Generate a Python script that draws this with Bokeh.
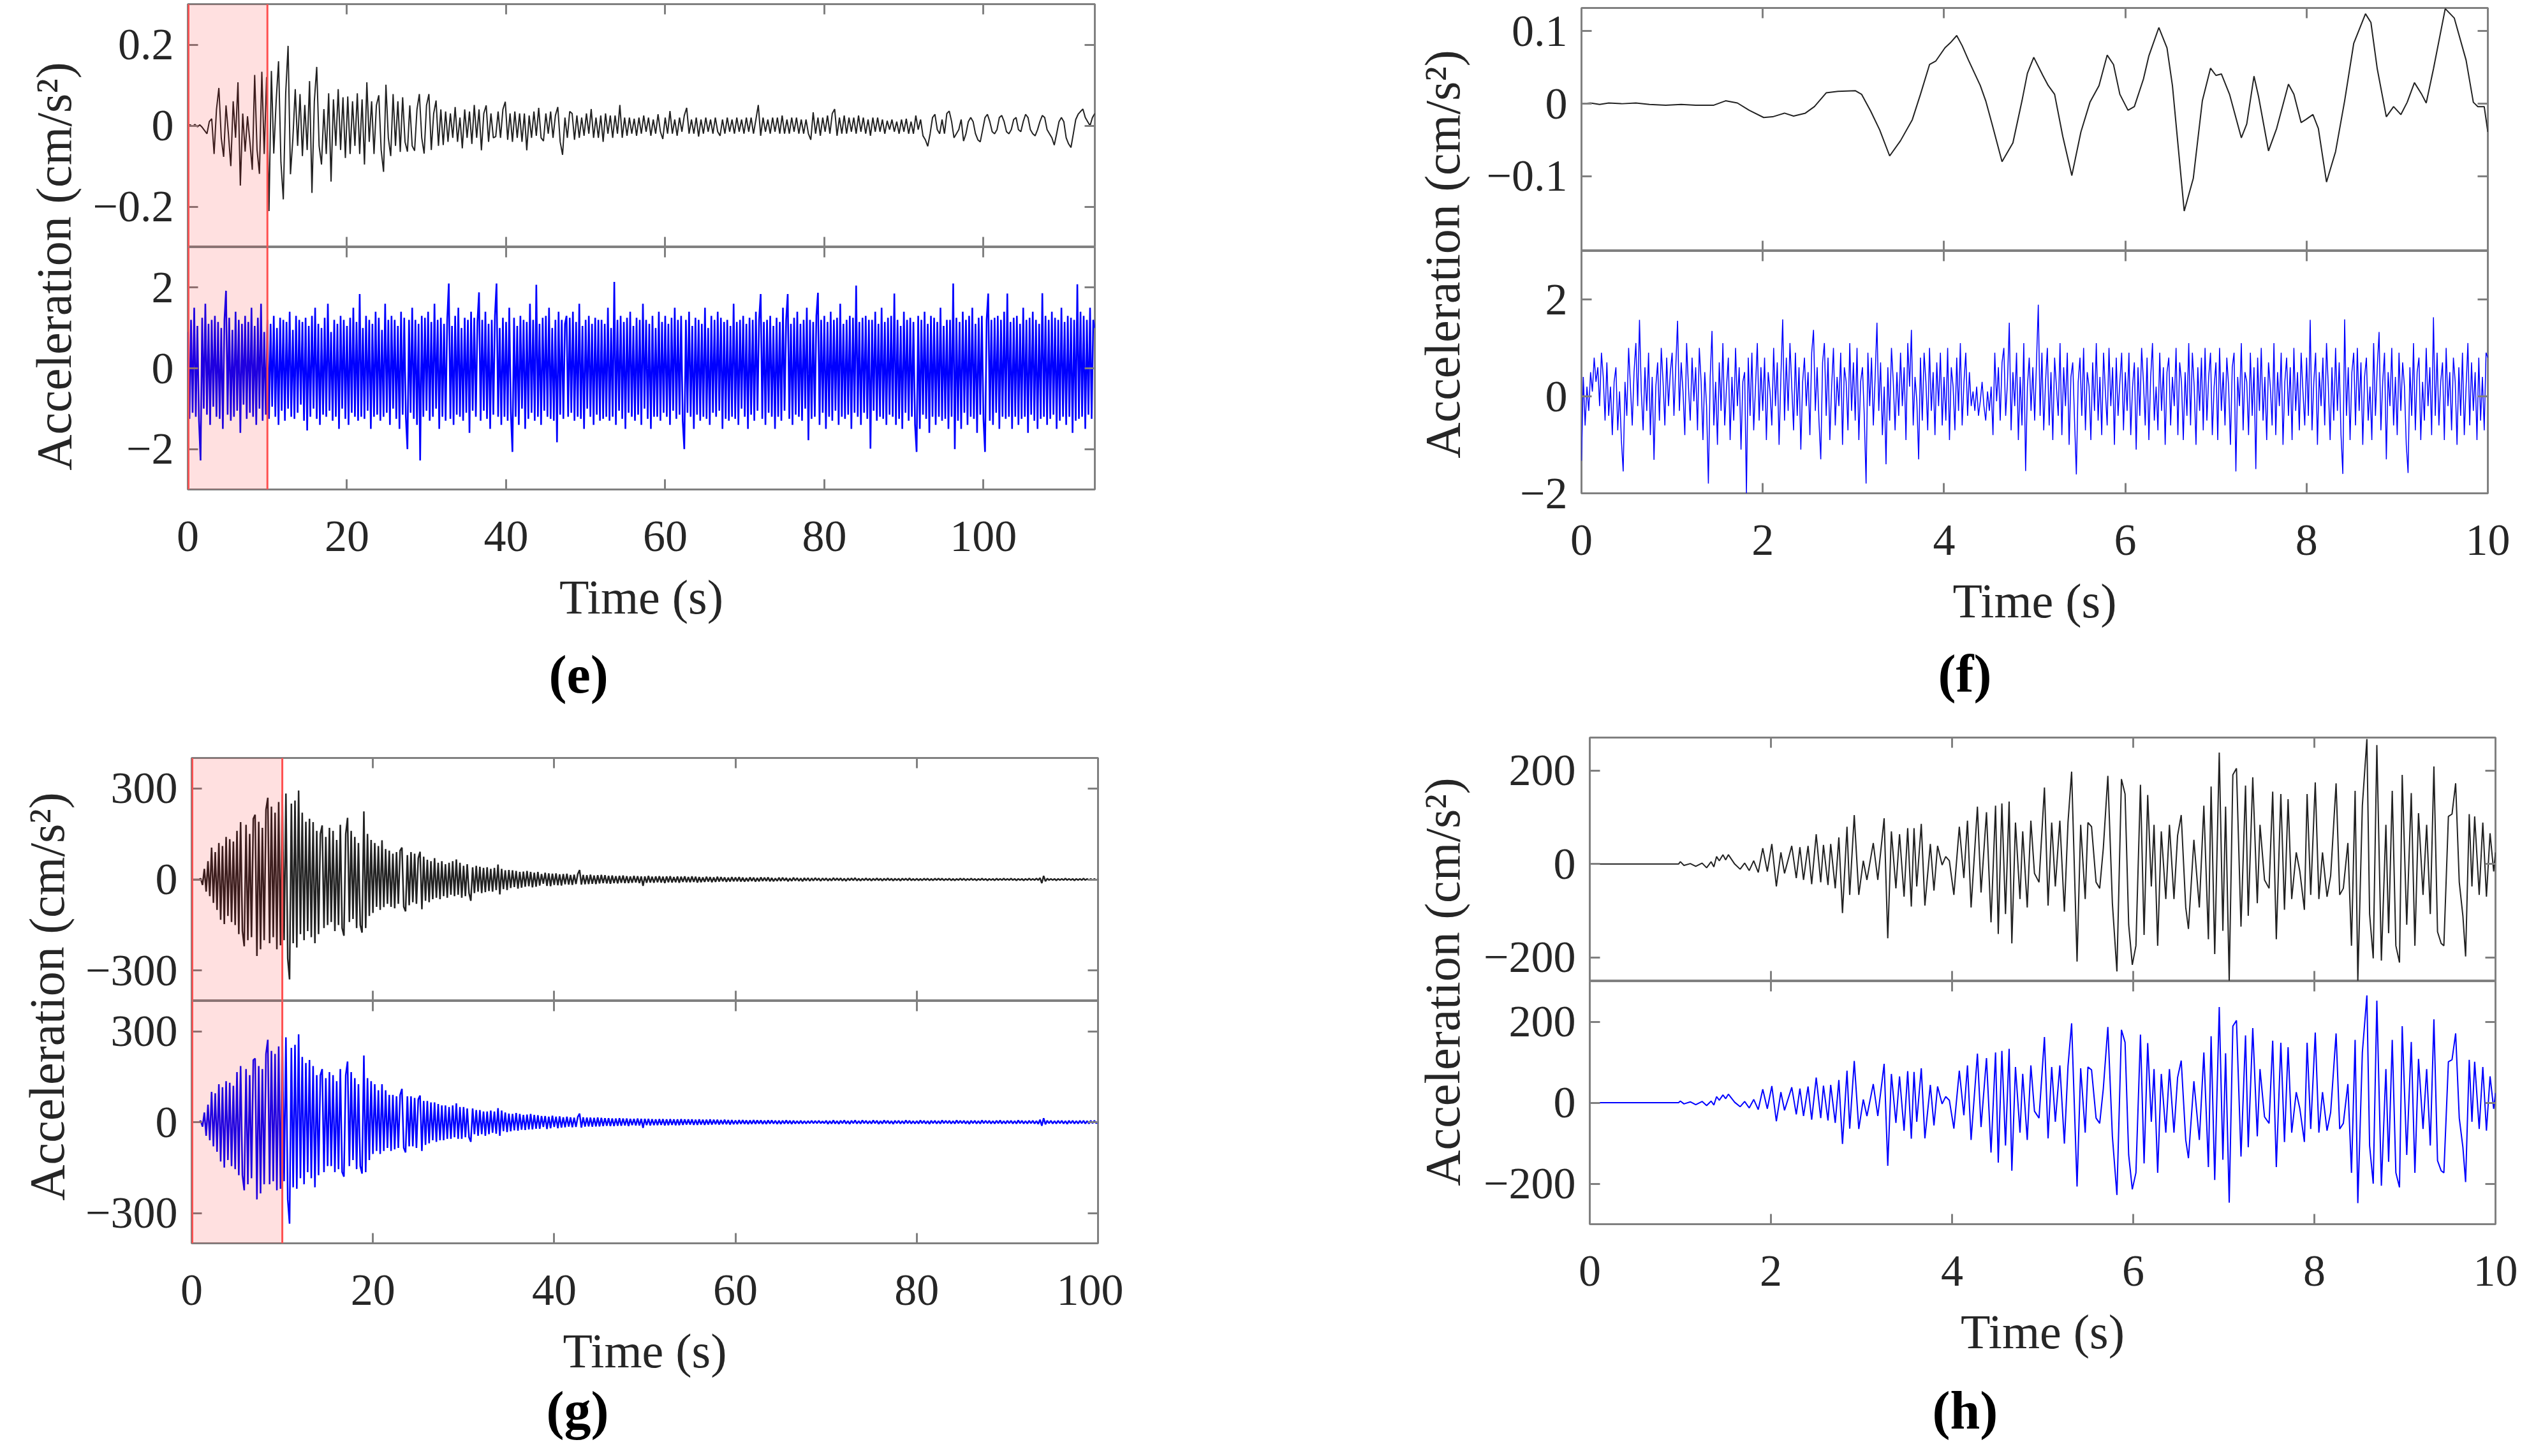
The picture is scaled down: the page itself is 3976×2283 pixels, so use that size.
import numpy as np
from bokeh.plotting import figure
from bokeh.layouts import row, column
from bokeh.models import (Range1d, LinearAxis, FixedTicker, BoxAnnotation, Span, Title,
                          CustomJSTickFormatter, CustomLabelingPolicy)
from bokeh.core.properties import value
from bokeh.embed import file_html
from bokeh.resources import INLINE

# ---------------- data ----------------
Y_LABEL = "Acceleration (cm/s\u00b2)"
X_LABEL = "Time (s)"

# (e) 0-114 s
e_xticks = [0, 20, 40, 60, 80, 100]
e_top_yticks = [-0.2, 0, 0.2]
e_bot_yticks = [-2, 0, 2]
e_window = [0, 10]
e_true_dt = 0.3
e_true = [
 0, .002, -.002, .003, -.003, .002, -.004, -.012, -.02, .01,
 .017, -.07, .04, .093, -.03, -.077, .05, -.02, -.1, .06,
 -.03, .107, -.148, .03, -.064, .023, -.04, -.109, .125, -.06,
 -.119, .133, -.07, .12, -.211, .135, -.069, .06, .159, -.09,
 -.182, .08, .197, -.12, -.033, .09, -.05, .078, -.075, .051,
 -.06, .11, -.166, .06, .145, -.05, -.096, .041, -.07, .08,
 -.138, .065, -.05, .09, -.06, .07, -.08, .072, -.07, .06,
 -.05, .08, -.07, .065, -.096, .107, -.04, .06, -.07, .05,
 .075, -.06, -.114, .101, -.03, -.075, .078, -.05, .06, -.065,
 .07, -.04, -.064, .05, -.05, -.062, .04, .078, -.03, -.069,
 .05, .078, -.06, .03, .062, -.05, .04, -.048, .035, -.04,
 .03, -.03, .046, -.04, .02, -.056, .04, -.03, .035, -.045,
 .051, -.03, .04, -.061, .03, .05, -.04, .03, -.03, -.027,
 .035, -.03, .04, .059, -.035, .03, -.04, .035, -.03, .03,
 -.04, .03, -.061, .025, -.03, .035, -.025, .044, -.03, -.038,
 .03, -.02, .035, -.03, .025, .046, -.04, -.072, .02, -.03,
 .035, .03, -.035, .025, -.03, .02, -.025, .03, -.02, .041,
 -.03, .02, -.03, .025, -.04, .03, -.02, .025, -.03, .025,
 -.02, .051, -.03, .02, -.025, .02, -.02, .017, -.025, .02,
 -.02, .025, -.015, .02, -.025, .015, -.02, .028, -.015, -.033,
 .02, -.02, .036, -.02, .015, -.025, .02, -.015, .025, .044,
 -.02, .015, -.02, .02, -.027, .015, -.02, .02, -.015, .015,
 -.02, .02, -.015, -.025, .015, -.02, .02, -.015, .015, -.02,
 .02, -.015, .015, -.02, .02, -.015, .02, -.02, .015, .051,
 -.025, .02, -.015, .015, -.02, .02, -.015, .02, -.02, .025,
 -.02, .015, -.02, .02, -.015, .02, -.02, .015, -.02, .015,
 -.02, -.035, .033, -.02, .02, -.025, .02, -.015, .025, -.02,
 .03, .041, -.025, .02, -.02, .025, -.02, .02, -.015, .02,
 -.02, .025, -.015, .02, -.02, .015, -.025, .02, -.015, .02,
 -.015, .015, -.02, .012, -.01, .015, -.015, .01, -.02, .015,
 -.015, .017, -.02, .01, -.02, .025, -.01, .015, -.025, -.035,
 -.051, -.02, .02, .028, -.01, -.02, .015, -.02, .03, .036,
 .01, -.03, -.02, -.01, .015, -.038, -.02, .01, .02, .01,
 -.02, -.035, -.04, -.01, .02, .028, .01, -.015, -.02, -.01,
 .02, .025, .01, -.015, -.02, -.01, .015, .02, -.01, -.015,
 .01, .028, .02, -.01, -.02, -.025, -.01, .01, .025, .02,
 -.01, -.02, -.03, -.048, -.02, .01, .02, .01, -.03, -.045,
 -.054, -.02, .015, .028, .035, .041, .02, .01, 0, .02,
 .03]
e_recon_dt = 0.2
e_recon = [
 .9,-1.25,1.2,-1.1,1.5,-1.2,1.05,-1.3,-2.28,1.25,-1.0,1.6,-1.15,1.1,-1.4,1.2,-.95,1.3,-1.2,1.15,
 -1.25,1.0,-1.5,1.2,1.92,-1.15,1.25,-1.3,.95,-1.2,1.4,-1.05,1.2,-1.6,1.1,-.9,1.3,-1.25,1.15,-1.1,
 1.5,-1.2,1.05,-1.4,1.25,-1.0,1.6,-1.3,.9,-1.15,1.2,-1.25,1.1,-.95,1.3,-1.2,1.0,-1.4,1.25,-1.05,
 1.2,-1.3,1.15,-1.0,1.4,-1.2,.95,-1.25,1.3,-1.1,1.2,-.9,1.15,-1.3,1.25,-1.54,1.05,-1.2,1.3,-1.0,
 1.5,-1.25,1.1,-1.4,1.0,-1.15,1.25,-1.2,1.6,-1.05,.9,-1.3,1.2,-1.2,1.1,-1.5,1.3,-1.0,1.2,-1.25,
 1.05,-1.4,1.25,-1.1,1.5,-1.2,1.15,-1.3,1.84,-1.2,1.0,-1.25,1.3,-1.05,1.2,-1.5,1.1,-1.2,1.4,-1.15,
 1.25,-1.3,.95,-1.2,1.6,-1.1,1.2,-1.4,1.3,-1.0,1.2,-1.25,1.05,-1.5,1.4,-1.15,1.25,-1.2,-2.0,1.2,
 -1.1,1.5,-1.25,1.2,-1.4,1.1,-2.28,1.3,-1.2,1.25,-1.05,1.4,-1.3,1.15,-1.2,1.6,-1.0,1.2,-1.5,1.25,
 -1.2,1.1,-1.3,1.2,2.10,-1.25,1.05,-1.4,1.3,-1.15,1.5,-1.2,1.0,-1.3,1.25,-1.1,1.2,-1.6,1.4,-1.05,
 1.25,-1.2,1.15,1.88,-1.3,1.2,-1.05,1.4,-1.25,1.1,-1.5,1.2,-1.15,1.3,2.10,-1.2,1.0,-1.4,1.25,-1.2,
 1.15,-1.3,1.5,-1.1,-2.07,1.25,-1.2,1.05,-1.4,1.3,-1.0,1.2,-1.5,1.15,-1.25,1.6,-1.1,1.2,-1.3,2.07,
 -1.2,1.1,-1.4,1.25,-1.05,1.3,-1.2,1.5,-1.25,1.0,-1.3,1.2,-1.83,1.4,-1.15,1.2,-1.25,1.1,1.3,-1.2,
 1.25,-1.1,1.4,-1.3,1.15,-1.2,1.6,-1.25,1.05,-1.5,1.2,-1.0,1.3,-1.2,1.1,-1.4,1.25,-1.15,1.2,-1.3,
 1.2,-1.25,1.1,-1.2,1.5,-1.3,1.0,-1.2,2.14,-1.4,1.2,-1.05,1.3,-1.25,1.15,-1.5,1.25,-1.1,1.4,-1.2,
 1.05,-1.3,1.25,-1.15,1.2,-1.4,1.6,-1.0,1.2,-1.25,1.1,-1.5,1.3,-1.2,1.0,-1.2,1.4,-1.3,1.15,-1.1,
 1.3,-1.2,1.1,-1.4,1.25,-1.05,1.5,-1.25,1.2,-1.15,1.3,-1.3,-2.0,1.2,-1.1,1.4,-1.2,1.05,-1.5,1.25,
 -1.15,1.2,-1.3,1.1,-1.2,1.5,-1.25,1.0,-1.4,1.3,-1.1,1.2,-1.2,1.4,-1.05,1.25,-1.5,1.15,-1.25,1.2,
 -1.3,1.05,-1.2,1.6,-1.25,1.15,-1.4,1.2,-1.0,1.3,-1.2,1.1,-1.5,1.25,-1.15,1.2,-1.3,1.4,-1.05,1.2,
 1.84,-1.25,1.15,-1.4,1.2,-1.1,1.3,-1.2,1.05,-1.5,1.25,-1.2,1.15,-1.3,1.5,-1.05,1.2,1.84,-1.25,1.1,
 -1.4,1.25,-1.15,1.4,-1.2,1.1,-1.3,1.2,-1.0,1.5,-1.78,1.2,-1.25,1.15,-1.2,1.3,1.87,-1.4,1.2,-1.1,
 1.3,-1.5,1.15,-1.2,1.4,-1.3,1.2,-1.05,1.25,-1.4,1.6,-1.2,1.1,-1.25,1.2,-1.15,1.3,-1.5,1.25,-1.1,
 2.05,-1.2,1.15,-1.4,1.25,-1.1,1.3,-1.25,1.2,-1.99,1.2,-1.05,1.4,-1.3,1.1,-1.2,1.5,-1.25,1.15,-1.4,
 1.25,-1.15,1.3,-1.2,1.85,-1.4,1.2,-1.25,1.05,-1.5,1.4,-1.1,1.2,-1.3,1.25,-1.2,1.15,-1.4,-2.07,1.3,
 -1.5,1.2,-1.15,1.4,-1.25,1.1,-1.6,1.3,-1.2,1.25,-1.4,1.15,-1.2,1.5,-1.3,1.05,-1.25,1.2,-1.5,1.2,
 -1.2,2.1,-2.0,1.25,-1.3,1.15,-1.5,1.4,-1.1,1.2,-1.4,1.3,-1.2,1.5,-1.25,1.1,-1.6,1.25,-1.15,1.3,
 -1.25,-2.07,1.2,1.85,-1.3,1.2,-1.4,1.25,-1.1,1.3,-1.5,1.2,-1.2,1.4,-1.25,1.85,-1.2,1.15,-1.5,1.25,
 -1.2,1.3,-1.4,1.1,-1.25,1.5,-1.2,1.2,-1.6,1.25,-1.15,1.4,-1.3,1.2,-1.5,1.1,-1.25,1.86,-1.2,1.3,
 -1.4,1.2,-1.25,1.4,-1.15,1.25,-1.5,1.2,-1.3,1.5,-1.2,1.15,-1.4,1.3,-1.2,1.25,-1.6,1.2,-1.3,2.08,
 -1.25,1.4,-1.2,1.3,-1.5,1.2,-1.15,1.5,-1.25,1.2,1.0]

# (f) 0-10 s
f_xticks = [0, 2, 4, 6, 8, 10]
f_top_yticks = [-0.1, 0, 0.1]
f_bot_yticks = [-2, 0, 2]
f_true_t = [0, .1, .2, .3, .45, .6, .75, .93, 1.1, 1.26, 1.46, 1.59, 1.72, 1.85, 2.01, 2.11, 2.24, 2.34, 2.47, 2.57,
 2.70, 2.83, 3.02, 3.09, 3.19, 3.29, 3.40, 3.52, 3.65, 3.74, 3.84, 3.91, 4.01, 4.07, 4.14, 4.20, 4.27, 4.40, 4.46, 4.53,
 4.64, 4.76, 4.86, 4.92, 4.99, 5.09, 5.15, 5.22, 5.31, 5.41, 5.51, 5.61, 5.71, 5.80, 5.87, 5.94, 6.03, 6.10, 6.20, 6.26,
 6.37, 6.46, 6.52, 6.59, 6.65, 6.75, 6.85, 6.94, 7.00, 7.06, 7.15, 7.28, 7.34, 7.42, 7.47, 7.58, 7.67, 7.80, 7.86, 7.94,
 7.99, 8.07, 8.13, 8.22, 8.32, 8.42, 8.52, 8.65, 8.71, 8.78, 8.88, 8.96, 9.04, 9.11, 9.19, 9.27, 9.32, 9.40, 9.53, 9.63,
 9.76, 9.84, 9.89, 9.96, 10.0]
f_true = [0, .001, -.001, .001, 0, .001, -.001, -.002, -.001, -.002, -.002, .004, .001, -.009, -.019, -.018, -.013, -.017, -.013, -.004,
 .015, .017, .018, .013, -.01, -.036, -.072, -.051, -.022, .013, .054, .059, .077, .084, .094, .080, .060, .025, .004, -.028,
 -.080, -.054, .004, .042, .064, .039, .025, .013, -.045, -.099, -.039, .002, .025, .067, .054, .013, -.009, -.004, .034, .066,
 .105, .077, .025, -.068, -.148, -.103, .004, .049, .039, .041, .013, -.047, -.028, .038, .010, -.065, -.034, .027, .013, -.026,
 -.022, -.015, -.034, -.108, -.066, .004, .083, .124, .112, .048, -.018, -.004, -.015, .002, .029, .013, .001, .048, .131, .118,
 .060, .002, -.004, -.004, -.039]
f_recon_dt = 0.02
f_recon = [
 -1.33,.4,-.6,.2,-.3,.5,.1,.8,.3,.6,-.2,.9,.4,-.5,.7,-.4,.2,-.8,.3,.6,-.7,.1,-.9,-1.55,.3,
 -.4,1.0,.2,-.6,.5,1.1,-.2,1.58,.1,-.7,.6,-.3,.9,-.8,.4,-1.31,.2,.7,-.5,1.0,.3,-.6,.8,-.2,.5,
 .9,-.4,.6,1.56,-.3,.7,.1,-.8,1.1,.2,-.5,.8,-.1,.6,-.7,1.0,.3,-.9,.5,-.2,-1.8,.4,1.35,-.6,.3,
 -1.0,.7,-.3,1.1,-.6,.2,.8,-.9,.4,-.5,1.0,-.2,.6,-1.1,.3,.5,-2.0,.8,-.4,.9,-.7,.2,1.1,-.5,.6,
 -.3,.8,-.9,.5,.1,-.6,1.0,-.2,.7,-1.0,.4,1.59,-.5,.8,-.3,1.1,.2,-.7,.9,-.4,.6,-1.1,.3,.8,-.2,
 .5,-.8,.9,1.37,-.3,.6,-.5,-1.3,.7,1.1,-.4,.8,-.9,.2,1.0,-.6,.4,-.2,.9,-1.0,.6,.3,-.7,1.1,-.3,
 .7,-.5,1.0,-.9,.3,.6,-.4,-1.8,.9,-.2,.8,-.6,.4,1.52,-.3,.7,-.8,.2,-1.4,.6,-.5,1.0,.3,-.7,.5,
 -.4,.9,-.2,.6,-.9,1.1,.2,1.37,-.6,.4,-.1,-1.3,.8,-.5,.9,.3,-.7,1.0,-.3,.5,-.8,.7,-.2,.9,-.6,
 .4,-.5,1.0,-.9,.6,.2,-.7,.8,-.3,1.1,-.6,.3,.9,-.4,.5,-.2,.1,-.3,.2,-.4,-.1,.3,-.2,-.5,.1,
 -.3,.2,-.8,.9,-.1,.6,-.5,.7,1.0,-.4,.3,1.52,-.7,.5,-.2,.9,-.9,.4,-.6,1.1,-1.54,.2,.8,-.3,.6,
 -.5,.7,1.89,-.4,.9,-.7,.3,1.0,-.6,.5,-.9,.8,.2,-.4,1.1,-.8,.6,-.2,.9,-1.0,.4,.7,-.5,-1.61,.3,
 .8,-.4,1.0,-.7,.5,.2,-.9,.7,-.3,1.1,-.5,.4,-.8,.9,.1,-.6,1.0,-.2,.6,-1.0,.8,-.4,.3,.9,-.7,
 .5,-.3,.9,-.8,.2,.7,-1.1,.6,-.4,1.0,.3,-.6,.8,-.9,.4,1.1,-.5,.2,-.7,.9,-.3,.6,-1.0,.5,.8,
 -.6,.4,-.2,1.0,-.8,.7,.3,-.9,.5,-.4,1.1,-.6,.9,.2,-1.0,.6,-.3,.8,-.7,1.0,-.5,.4,.9,-.8,.2,
 .7,-.9,1.0,-.3,.5,-.6,.8,.2,-1.0,.6,.9,-1.55,.4,-.2,1.1,-.7,.5,.3,-.8,.9,-.4,.6,-1.5,.8,-.3,
 1.0,-.5,.4,-.9,.7,.2,-.6,1.1,-.8,.5,-.2,.9,-1.0,.3,.8,-.4,.6,-.9,1.0,-.3,.5,-.7,.9,.1,-.6,
 .8,-.4,1.58,-.7,.3,.9,-1.0,.5,-.2,.8,-.6,1.1,.2,-.9,.6,-.5,1.0,-.3,.7,-.8,-1.6,1.59,-.4,.6,-.9,
 .5,.9,-.6,1.0,-.3,.7,-1.0,.4,.8,-.5,.2,-.9,1.1,-.4,.6,1.33,-.7,.3,.9,-1.3,.5,-.2,1.0,-.6,.4,
 -.8,.9,-.3,.7,.2,-1.0,-1.58,.6,-.4,1.1,-.7,.5,.8,-.9,.3,-.5,1.0,-.2,.6,-.8,1.63,-.4,.9,-.6,.3,
 .7,-.9,1.0,-.2,.5,-.7,.8,.3,-1.0,.6,-.4,.9,-.8,.2,1.1,-.6,.7,-.3,.5,-.9,.8,-.5,.4,-.7,.9,
 .8]

# (g) 0-100 s
g_xticks = [0, 20, 40, 60, 80, 100]
g_yticks = [-300, 0, 300]
g_window = [0, 10]
g_dt = 0.2
g_true = [
 0,0,0,0,0,3,-18,35,-40,60,-55,105,-77,90,-100,120,-133,110,-147,140,-120,133,-140,125,-150,
 160,-180,189,-170,-220,180,-200,150,-190,200,213,-252,190,-230,170,-200,230,269,-210,240,-190,220,-230,255,-217,
 280,-200,283,-260,-329,250,-210,260,-224,293,-180,220,-200,190,-170,200,-190,189,-210,160,-180,150,178,-160,140,
 -150,170,-140,160,-170,130,-150,180,-160,-185,150,203,-140,160,-130,140,-160,120,-150,-175,224,-160,150,-120,130,
 -110,120,-90,110,-100,129,-91,100,-80,95,-90,85,-95,90,-80,95,105,-90,-105,80,-85,90,-75,85,-80,
 70,91,-98,75,-70,65,-75,60,-65,70,-60,55,-65,60,-55,50,-60,55,-50,60,-55,66,-50,55,-60,
 45,-55,50,-45,-70,40,-45,45,-40,42,-45,38,-42,40,-38,35,-40,38,-35,49,-49,35,-32,30,-35,
 31,-28,30,-25,28,-30,25,-27,26,-24,28,-22,25,-26,22,-24,25,-20,18,-14,22,-21,20,-22,19,
 -18,20,-19,17,-20,18,-16,19,-17,15,-18,16,-15,18,31,-17,15,-16,14,-15,16,-14,13,-15,14,
 -13,15,-12,14,-13,12,-14,13,-12,11,-13,12,-11,13,-12,11,-12,10,-11,12,-10,11,-12,10,-21,
 10,-11,12,-10,9,-11,10,-9,11,-10,9,-12,10,-9,11,-10,8,-9,10,-11,9,-8,10,-9,8,
 -9,10,-8,9,-10,8,-9,7,-8,9,-7,8,-9,7,-8,9,-7,8,-6,7,-8,6,-7,8,-6,
 7,-6,8,-7,6,-7,5,-6,7,-5,6,-7,5,-6,7,-5,6,-5,7,-6,5,-6,4,-5,6,
 -5,6,-4,5,-6,4,-5,6,-4,5,-5,4,-6,5,-4,5,-5,4,-4,5,-3,4,-5,4,-3,
 4,-4,3,-4,5,-3,4,-3,4,-4,3,-5,4,-3,4,-3,5,-4,3,-4,3,-3,4,-3,3,
 -4,3,-3,4,-3,3,-4,3,-3,4,-3,3,-4,3,-3,3,-4,3,-2,3,-3,4,-3,2,-3,
 3,-3,2,-3,3,-2,3,-3,2,-3,3,-2,3,-2,3,-3,2,-2,3,-3,2,-3,2,-2,3,
 -2,3,-3,2,-2,3,-2,2,-3,2,-2,3,-2,2,-3,2,-2,2,-3,3,-2,2,-2,3,-2,
 2,-2,3,-2,2,-3,2,-2,2,-3,2,-2,3,-2,2,-2,3,-2,5,-12,12,-6,3,-2,2,
 -2,2,-3,2,-2,2,-2,3,-2,2,-2,2,-3,2,-2,2,-2,3,-2,2,-2,2,-2,2,-2,
 1]
g_pred = [
 0,0,0,0,0,4,-15,32,-45,58,-60,100,-80,95,-98,125,-130,115,-150,135,-125,130,-145,120,-155,
 165,-175,185,-175,-225,175,-205,155,-185,205,210,-255,185,-235,175,-205,225,272,-205,235,-195,225,-225,250,-220,
 285,-195,280,-255,-335,245,-215,255,-220,290,-185,215,-205,195,-165,205,-185,185,-215,155,-175,155,175,-165,145,
 -145,165,-145,155,-165,135,-155,175,-165,-180,155,200,-145,165,-125,145,-155,125,-145,-170,220,-165,145,-125,135,
 -105,125,-95,105,-105,125,-95,105,-85,90,-95,90,-90,85,-85,90,110,-85,-100,85,-80,85,-80,80,-85,
 75,88,-95,70,-75,70,-70,65,-60,65,-65,60,-60,55,-60,55,-55,50,-55,55,-50,62,-55,50,-55,
 50,-50,45,-50,-65,45,-40,40,-45,40,-40,35,-45,35,-40,38,-35,35,-38,46,-45,38,-30,32,-33,
 28,-30,27,-27,30,-28,27,-25,24,-26,25,-24,27,-24,24,-22,23,-22,20,-16,20,-23,18,-20,21,
 -16,18,-20,19,-18,16,-17,18,-15,16,-17,15,-16,17,28,-18,16,-15,15,-14,15,-15,14,-14,15,
 -14,14,-13,13,-12,13,-13,12,-13,12,-12,13,-12,12,-11,12,-13,11,-10,11,-11,12,-11,11,-19,
 11,-10,11,-11,10,-10,9,-10,10,-9,10,-11,9,-10,10,-9,9,-10,9,-10,10,-9,9,-8,9,
 -8,9,-9,8,-9,9,-8,8,-9,8,-8,9,-8,8,-7,8,-8,7,-7,8,-7,7,-8,7,-7,
 6,-7,7,-6,7,-6,6,-7,6,-6,7,-6,6,-5,6,-6,5,-6,6,-5,6,-5,5,-6,5,
 -6,5,-5,6,-5,5,-6,5,-5,4,-5,5,-5,4,-5,4,-4,5,-4,4,-4,5,-4,3,-4,
 5,-6,4,-5,6,-5,4,-6,5,-4,6,-5,4,-6,5,-4,6,-5,4,-5,6,-4,5,-5,4,
 -5,6,-4,5,-6,4,-5,6,-4,5,-5,4,-6,5,-4,5,-5,4,-5,6,-4,5,-5,4,-5,
 4,-5,6,-4,5,-5,4,-6,5,-4,5,-5,4,-5,6,-4,5,-4,5,-5,4,-5,6,-4,5,
 -4,5,-5,4,-6,5,-4,5,-5,4,-5,6,-4,5,-4,5,-5,4,-5,5,-4,6,-5,4,-5,
 5,-4,5,-5,4,-5,6,-4,5,-5,4,-5,5,-4,5,-5,4,-6,8,-12,13,-7,5,-4,5,
 -5,4,-5,5,-4,5,-5,4,-6,5,-4,5,-5,4,-5,5,-4,5,-5,4,-5,5,-4,5,-4,
 1]

# (h) 0-10 s
h_xticks = [0, 2, 4, 6, 8, 10]
h_yticks = [-200, 0, 200]
h_t = [0, 0.98, 1.00, 1.04, 1.11, 1.17, 1.24, 1.29, 1.34, 1.37,
 1.40, 1.43, 1.47, 1.50, 1.53, 1.60, 1.66, 1.71, 1.76, 1.81,
 1.86, 1.91, 1.96, 2.01, 2.06, 2.11, 2.15, 2.23, 2.28, 2.32,
 2.36, 2.41, 2.45, 2.50, 2.55, 2.58, 2.63, 2.66, 2.71, 2.75,
 2.79, 2.84, 2.87, 2.92, 2.97, 3.02, 3.06, 3.13, 3.18, 3.25,
 3.29, 3.33, 3.38, 3.42, 3.47, 3.51, 3.55, 3.58, 3.61, 3.66,
 3.70, 3.76, 3.80, 3.84, 3.89, 3.93, 3.97, 4.02, 4.08, 4.13,
 4.17, 4.21, 4.28, 4.32, 4.38, 4.43, 4.48, 4.51, 4.55, 4.59,
 4.63, 4.66, 4.70, 4.75, 4.78, 4.83, 4.87, 4.91, 4.96, 5.02,
 5.06, 5.10, 5.14, 5.19, 5.24, 5.28, 5.32, 5.38, 5.42, 5.47,
 5.50, 5.54, 5.59, 5.63, 5.67, 5.72, 5.77, 5.82, 5.87, 5.91,
 5.95, 5.99, 6.03, 6.08, 6.12, 6.16, 6.20, 6.23, 6.27, 6.31,
 6.36, 6.40, 6.45, 6.49, 6.53, 6.58, 6.61, 6.67, 6.73, 6.78,
 6.83, 6.86, 6.90, 6.95, 6.99, 7.02, 7.06, 7.10, 7.14, 7.19,
 7.24, 7.27, 7.32, 7.37, 7.40, 7.45, 7.50, 7.54, 7.58, 7.63,
 7.67, 7.71, 7.75, 7.80, 7.84, 7.89, 7.92, 7.96, 8.01, 8.05,
 8.09, 8.14, 8.18, 8.24, 8.28, 8.32, 8.37, 8.41, 8.45, 8.48,
 8.53, 8.58, 8.61, 8.65, 8.69, 8.74, 8.79, 8.82, 8.86, 8.90,
 8.94, 8.97, 9.02, 9.07, 9.11, 9.15, 9.20, 9.24, 9.28, 9.32,
 9.36, 9.40, 9.43, 9.48, 9.52, 9.56, 9.60, 9.64, 9.67, 9.71,
 9.74, 9.77, 9.82, 9.86, 9.90, 9.94, 9.98, 10.0]
h_true = [0, 0, 5, -3, 1, -5, 2, -8, 5, -6,
 16, 7, 20, 9, 20, 0, -11, 2, -14, 7,
 -18, 34, -16, 43, -48, 25, -20, 39, -30, 36,
 -34, 39, -43, 64, -39, 41, -45, 43, -52, 57,
 -105, 80, -66, 105, -66, 7, -34, 45, -34, 98,
 -159, 70, -52, 64, -70, 77, -91, 77, -48, 86,
 -89, 43, -57, 39, -2, 16, 7, -66, 80, -30,
 93, -93, 123, -61, 111, -125, 125, -150, 130, -107,
 134, -170, 89, -75, 70, -93, 93, -20, -39, 164,
 -89, 89, -48, 93, -102, 89, 198, -209, 84, -75,
 89, 80, -39, -52, 34, 189, -84, -230, 182, 150,
 -130, -216, -175, 170, -152, 148, -48, 84, -175, 70,
 -75, 84, -75, 61, 105, -93, -139, 52, -93, 125,
 -161, 166, -193, 239, -143, 123, -250, 191, 205, -134,
 168, -111, 186, -84, 84, -34, -52, 155, -161, 150,
 -98, 139, -75, 25, -16, -98, 150, -66, 175, -75,
 25, -70, -25, 173, -66, -52, 45, -175, 157, -250,
 125, 268, -107, -202, 255, -207, 84, -148, 157, -175,
 -211, 191, -130, 152, -175, 109, -66, 84, -107, 209,
 -145, -170, -175, 102, 107, 173, -39, -111, -198, 107,
 -48, 102, -66, 89, -70, 66, -16, 25]
h_pred = [0, 0, 4, -3, 2, -5, 3, -7, 4, -6,
 15, 6, 19, 10, 21, 1, -10, 3, -13, 8,
 -17, 33, -15, 41, -46, 26, -19, 38, -29, 35,
 -33, 40, -42, 62, -38, 42, -44, 44, -50, 56,
 -102, 79, -64, 103, -65, 8, -33, 46, -33, 96,
 -156, 71, -50, 65, -69, 78, -89, 76, -47, 85,
 -88, 44, -56, 40, -3, 15, 6, -64, 79, -31,
 92, -92, 121, -60, 110, -123, 124, -148, 128, -106,
 133, -168, 88, -74, 71, -92, 92, -21, -38, 162,
 -88, 88, -47, 92, -101, 90, 196, -207, 85, -74,
 88, 81, -38, -51, 35, 187, -83, -228, 180, 149,
 -129, -214, -173, 168, -150, 147, -47, 83, -173, 71,
 -74, 83, -74, 62, 104, -92, -137, 53, -92, 124,
 -159, 164, -191, 236, -141, 122, -247, 189, 203, -133,
 166, -110, 184, -83, 83, -35, -51, 153, -159, 148,
 -97, 137, -74, 26, -15, -97, 148, -65, 173, -74,
 26, -69, -24, 171, -65, -51, 46, -173, 155, -248,
 124, 265, -106, -200, 252, -205, 83, -146, 155, -173,
 -209, 189, -129, 150, -173, 108, -65, 83, -106, 206,
 -143, -168, -173, 101, 106, 171, -38, -110, -196, 106,
 -47, 101, -65, 88, -69, 65, -15, 24]

# ---------------- styling ----------------
FONT = "Liberation Serif"
TICK_FS = "70px"
LAB_FS = "76px"
YLAB_FS = "78px"
CAP_FS = "84px"
TXT = "#262626"
FRAME = "#808080"
BLACK_LINE = "#222222"
BLUE_LINE = "#0000ff"
RB = 40

FMT = CustomJSTickFormatter(code="return tick < 0 ? '\\u2212' + String(Math.abs(tick)) : String(tick);")
NO_LABELS = CustomLabelingPolicy(code="return [];")


def tick_axis(ticks, labels, standoff=22):
    ax = LinearAxis(ticker=FixedTicker(ticks=ticks), formatter=FMT)
    ax.major_tick_in = 16
    ax.major_tick_out = 0
    ax.minor_tick_line_color = None
    ax.axis_line_color = None
    ax.major_tick_line_color = FRAME
    ax.major_tick_line_width = 3
    if labels:
        ax.major_label_text_font = FONT
        ax.major_label_text_font_size = TICK_FS
        ax.major_label_text_color = TXT
        ax.major_label_standoff = standoff
    else:
        ax.major_label_policy = NO_LABELS
        ax.major_label_text_font_size = "0px"
        ax.major_label_standoff = 0
    return ax


def subplot(lb, x_end, xticks, y_lo, y_hi, yticks, fw, fh, bt, bb, bottom):
    p = figure(frame_width=fw, frame_height=fh,
               x_range=Range1d(0, x_end), y_range=Range1d(y_lo, y_hi),
               output_backend="svg", toolbar_location=None,
               x_axis_location=None, y_axis_location=None,
               min_border_left=lb, min_border_right=RB,
               min_border_top=bt, min_border_bottom=bb)
    p.grid.visible = False
    p.outline_line_color = FRAME
    p.outline_line_width = 3
    p.add_layout(tick_axis(yticks, True), "left")
    p.add_layout(tick_axis(yticks, False), "right")
    p.add_layout(tick_axis(xticks, False), "above")
    bx = tick_axis(xticks, bottom, standoff=50)
    if bottom:
        bx.axis_label = X_LABEL
        bx.axis_label_text_font = FONT
        bx.axis_label_text_font_size = LAB_FS
        bx.axis_label_text_font_style = "normal"
        bx.axis_label_text_color = TXT
        bx.axis_label_standoff = 27
    p.add_layout(bx, "below")
    return p


def red_window(p, win):
    p.add_layout(BoxAnnotation(left=win[0], right=win[1], fill_color="#ff0000",
                               fill_alpha=0.12, line_alpha=0))
    p.add_layout(Span(location=win[0], dimension="height", line_color="#ff5050", line_width=5))
    p.add_layout(Span(location=win[1], dimension="height", line_color="#ff5050", line_width=3))


def label_fig(w, h, x, y, txt):
    p = figure(width=w, height=h, x_range=Range1d(0, w), y_range=Range1d(h, 0),
               min_border=0, toolbar_location=None, output_backend="svg",
               x_axis_location=None, y_axis_location=None)
    p.grid.visible = False
    p.outline_line_color = None
    p.text(x=[x], y=[y], text=[txt], angle=np.pi / 2, text_font=value(FONT),
           text_font_size=YLAB_FS, text_align="center", text_baseline="middle",
           text_color=TXT)
    return p


def panel(cfg):
    lb = cfg["lb"]
    top = subplot(lb, cfg["x_end"], cfg["xticks"], cfg["top_lim"][0], cfg["top_lim"][1], cfg["top_ticks"],
                  cfg["fw"], cfg["fh_top"], cfg["bt"], 0, False)
    bot = subplot(lb, cfg["x_end"], cfg["xticks"], cfg["bot_lim"][0], cfg["bot_lim"][1], cfg["bot_ticks"],
                  cfg["fw"], cfg["fh_bot"], 0, cfg["bb"], True)
    tt, tv = cfg["top_data"]
    bt_, bv = cfg["bot_data"]
    top.line(tt, tv, line_color=BLACK_LINE, line_width=cfg["lw_top"])
    bot.line(bt_, bv, line_color=BLUE_LINE, line_width=cfg["lw_bot"])
    if cfg.get("window"):
        red_window(top, cfg["window"])
        red_window(bot, cfg["window"])
    bot.add_layout(Title(text=cfg["caption"], align="left", offset=cfg["cap_off"],
                         standoff=cfg["cap_standoff"], vertical_align="top",
                         text_font=FONT, text_font_size=CAP_FS, text_font_style="bold",
                         text_color="#000000"), "below")
    lab_h = cfg["bt"] + cfg["fh_top"] + cfg["fh_bot"] + cfg["bb"]
    lab = label_fig(cfg["lab_w"], lab_h, cfg["lab_xy"][0], cfg["lab_xy"][1], Y_LABEL)
    return row(lab, column(top, bot))


def series(vals, dt):
    return np.arange(len(vals)) * dt, np.array(vals, dtype=float)


nh = min(len(h_t), len(h_true), len(h_pred))
nf = min(len(f_true_t), len(f_true))

pe = panel(dict(lb=160, x_end=114, xticks=e_xticks, top_lim=(-0.3, 0.3), top_ticks=e_top_yticks,
                bot_lim=(-3, 3), bot_ticks=e_bot_yticks, fw=1422, fh_top=381, fh_bot=380, bt=6, bb=383,
                top_data=series(e_true, e_true_dt), bot_data=series(e_recon, e_recon_dt),
                lw_top=2, lw_bot=2.6, window=e_window,
                lab_w=134, lab_xy=(84, 417), cap_off=566, cap_standoff=60, caption="(e)"))
pf = panel(dict(lb=160, x_end=10, xticks=f_xticks, top_lim=(-0.203, 0.132), top_ticks=f_top_yticks,
                bot_lim=(-2, 3), bot_ticks=f_bot_yticks, fw=1421, fh_top=381, fh_bot=380, bt=12, bb=377,
                top_data=(f_true_t[:nf], f_true[:nf]), bot_data=series(f_recon, f_recon_dt),
                lw_top=2, lw_bot=1.5, window=None,
                lab_w=563, lab_xy=(505, 398), cap_off=559, cap_standoff=46, caption="(f)"))
pg = panel(dict(lb=175, x_end=100, xticks=g_xticks, top_lim=(-400, 400), top_ticks=g_yticks,
                bot_lim=(-400, 400), bot_ticks=g_yticks, fw=1421, fh_top=381, fh_bot=380, bt=38, bb=318,
                top_data=series(g_true, g_dt), bot_data=series(g_pred, g_dt),
                lw_top=2.5, lw_bot=2.5, window=g_window,
                lab_w=125, lab_xy=(73, 412), cap_off=556, cap_standoff=4, caption="(g)"))
ph = panel(dict(lb=175, x_end=10, xticks=h_xticks, top_lim=(-251, 271), top_ticks=h_yticks,
                bot_lim=(-300, 300), bot_ticks=h_yticks, fw=1420, fh_top=382, fh_bot=381, bt=6, bb=348,
                top_data=(h_t[:nh], h_true[:nh]), bot_data=(h_t[:nh], h_pred[:nh]),
                lw_top=2, lw_bot=2, window=None,
                lab_w=556, lab_xy=(500, 389), cap_off=537, cap_standoff=64, caption="(h)"))

layout = column(row(pe, pf), row(pg, ph))

with open("out.html", "w", encoding="utf-8") as fh:
    fh.write(file_html(layout, INLINE))
